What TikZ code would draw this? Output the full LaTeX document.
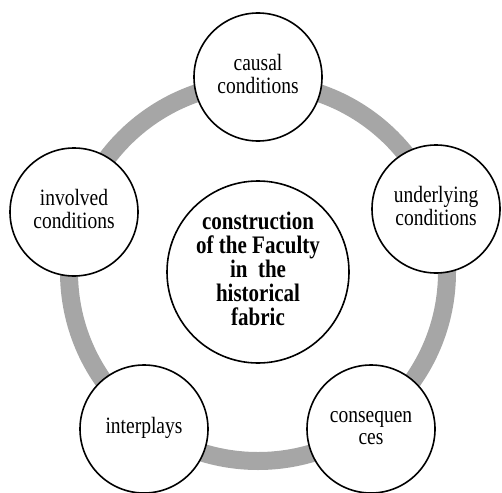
\documentclass[tikz,border=0pt]{standalone}
\usepackage{fontspec}
\usepackage{graphicx}
\setmainfont{Liberation Serif}
\definecolor{ringgray}{RGB}{166,166,166}
\newcommand{\tallsmall}[2][17.5]{\scalebox{1}[1.2]{\fontsize{19.5}{#1}\selectfont\begin{tabular}{@{}c@{}}#2\end{tabular}}}
\newcommand{\tallbold}[1]{\scalebox{1}[1.2]{\bfseries\fontsize{21}{18.3}\selectfont\begin{tabular}{@{}c@{}}#1\end{tabular}}}
\begin{document}
\begin{tikzpicture}[x=1pt,y=-1pt,
  outer/.style={circle, draw=black, line width=1.6pt, fill=white, minimum size=128pt, inner sep=0pt, align=center},
  hub/.style={circle, draw=black, line width=1.6pt, fill=white, minimum size=182pt, inner sep=0pt, align=center}]
\useasboundingbox (0,0) rectangle (502,492);
\coordinate (ctr) at (258,272);
\draw[line width=18pt, ringgray] (ctr) circle[radius=189pt];
\node[hub] (hubnode) at (ctr) {\tallbold{construction\\of the Faculty\\in\hspace{0.25em} the\\historical\\fabric}};
\node[outer] (causal) at (258,77) {\tallsmall{causal\\conditions}};
\node[outer] (underlying) at (436,209) {\tallsmall{underlying\\conditions}};
\node[outer] (involved) at (74,212) {\tallsmall{involved\\conditions}};
\node[outer] (interplays) at (144,429) {\tallsmall{interplays}};
\node[outer] (consequences) at (371,429) {\raisebox{-9pt}{\tallsmall[18.5]{consequen\\ces}}};
\end{tikzpicture}
\end{document}
